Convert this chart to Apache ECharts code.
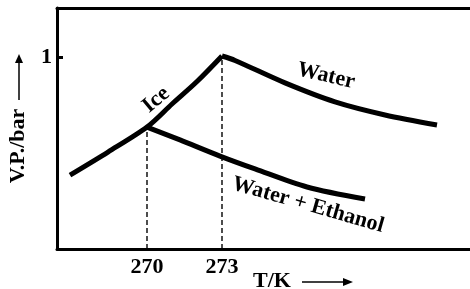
<!DOCTYPE html>
<html><head><meta charset="utf-8">
<script src="https://cdn.jsdelivr.net/npm/echarts@6/dist/echarts.min.js"></script>
<style>html,body{margin:0;padding:0;background:#fff}#c{width:470px;height:289px}</style>
</head><body><div id="c"></div>
<script>
// Data (T in K, vapour pressure in bar)
const iceT = [266.92, 268.44, 270, 271, 272, 273];
const iceP = [0.385, 0.505, 0.635, 0.755, 0.872, 1.005];
const waterT = [273, 273.52, 275.52, 277.52, 279.52, 281.6];
const waterP = [1.005, 0.982, 0.865, 0.766, 0.698, 0.646];
const mixT = [270, 271.32, 272.92, 274.32, 276.4, 278.72];
const mixP = [0.635, 0.568, 0.484, 0.417, 0.323, 0.26];
const xTicks = [270, 273];
const yTicks = [1];
const curveLabels = ['Ice', 'Water', 'Water + Ethanol'];
const labelT = [270.36, 277.16, 276.44];
const labelP = [0.776, 0.901, 0.229];
const labelRot = [40, -13, -16];

const FONT = '"Liberation Serif","Times New Roman",serif';
const zip = (a, b) => a.map((v, i) => [v, b[i]]);
const chart = echarts.init(document.getElementById('c'), null, {renderer: 'canvas'});
const curveStyle = {color: '#000', width: 5, cap: 'butt', join: 'miter'};
const dashStyle = {color: '#000', width: 1.4, type: [5, 3]};
const frame = {show: true, onZero: false, lineStyle: {color: '#000', width: 3}};
const curve = (T, P) => ({type: 'line', data: zip(T, P), symbol: 'none', smooth: 0.3,
  lineStyle: curveStyle, z: 3});

chart.setOption({
  animation: false,
  backgroundColor: '#fff',
  grid: {left: 57, right: 0, top: 8, bottom: 40},
  xAxis: [{
    type: 'value', min: 266.4, max: 282.92, position: 'bottom',
    splitLine: {show: false}, axisTick: {show: false},
    axisLine: frame,
    axisLabel: {customValues: xTicks, color: '#000', fontFamily: FONT, fontWeight: 'bold', fontSize: 22, margin: 7}
  }, {
    type: 'value', min: 266.4, max: 282.92, position: 'top',
    splitLine: {show: false}, axisTick: {show: false}, axisLabel: {show: false},
    axisLine: frame
  }],
  yAxis: {
    type: 'value', min: 0, max: 1.255,
    splitLine: {show: false},
    axisLine: frame,
    axisTick: {customValues: yTicks, inside: true, length: 6, lineStyle: {color: '#000', width: 3}},
    axisLabel: {customValues: yTicks, color: '#000', fontFamily: FONT, fontWeight: 'bold', fontSize: 22, margin: 5}
  },
  series: [
    {type: 'line', data: [[xTicks[0], 0], [mixT[0], mixP[0]]], symbol: 'none', lineStyle: dashStyle, z: 1},
    {type: 'line', data: [[xTicks[1], 0], [waterT[0], waterP[0]]], symbol: 'none', lineStyle: dashStyle, z: 1},
    curve(iceT, iceP),
    curve(waterT, waterP),
    curve(mixT, mixP)
  ]
});

const g = curveLabels.map((t, i) => {
  const p = chart.convertToPixel({gridIndex: 0}, [labelT[i], labelP[i]]);
  return {type: 'text', x: p[0], y: p[1], rotation: labelRot[i] * Math.PI / 180,
    style: {text: t, fill: '#000', font: 'bold 22px ' + FONT, align: 'center', verticalAlign: 'middle'}};
});
// axis titles
g.push({type: 'text', x: 18, y: 146, rotation: Math.PI / 2,
  style: {text: 'V.P./bar', fill: '#000', font: 'bold 22px ' + FONT, align: 'center', verticalAlign: 'middle'}});
g.push({type: 'line', shape: {x1: 19, y1: 100, x2: 19, y2: 62}, style: {stroke: '#000', lineWidth: 1.5}});
g.push({type: 'polygon', shape: {points: [[19, 54], [15, 63], [23, 63]]}, style: {fill: '#000'}});
g.push({type: 'text', x: 253, y: 281,
  style: {text: 'T/K', fill: '#000', font: 'bold 22px ' + FONT, align: 'left', verticalAlign: 'middle'}});
g.push({type: 'line', shape: {x1: 302, y1: 282, x2: 344, y2: 282}, style: {stroke: '#000', lineWidth: 1.5}});
g.push({type: 'polygon', shape: {points: [[353, 282], [343, 278], [343, 286]]}, style: {fill: '#000'}});
chart.setOption({graphic: g});
</script></body></html>
